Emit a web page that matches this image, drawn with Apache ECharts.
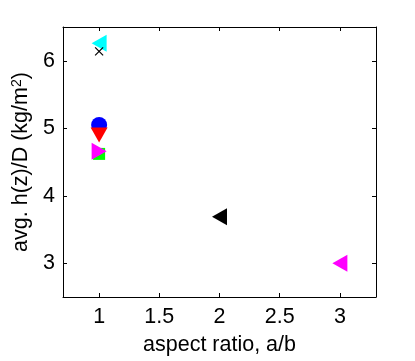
<!DOCTYPE html>
<html>
<head>
<meta charset="utf-8">
<script src="https://cdn.jsdelivr.net/npm/echarts@6/dist/echarts.min.js"></script>
<style>html,body{margin:0;padding:0;background:#fff}#c{width:415px;height:361px}</style>
</head>
<body>
<div id="c"></div>
<script>
// Data
var xTicks = [1, 1.5, 2, 2.5, 3];
var yTicks = [3, 4, 5, 6];
var cyanTri = [[1, 6.26]];
var blackX = [[1, 6.14]];
var blueCircle = [[1, 5.05]];
var redDown = [[1, 4.90]];
var greenSquare = [[1, 4.62]];
var magentaRight = [[1, 4.66]];
var blackLeft = [[2, 3.69]];
var magentaLeft = [[3, 3.00]];

var FONT = 'Liberation Sans, Arial, Helvetica, sans-serif';
var FS = 21.5;
var chart = echarts.init(document.getElementById('c'), null, {renderer: 'canvas'});

function axisCommon(vals, showLabel, margin) {
  return {
    axisLine: {show: true, lineStyle: {color: '#000', width: 1}},
    axisTick: {show: true, inside: true, length: 4, customValues: vals, lineStyle: {color: '#000', width: 1}},
    axisLabel: {show: showLabel, customValues: vals, color: '#000', fontSize: FS, fontFamily: FONT, margin: margin || 8},
    splitLine: {show: false}
  };
}

var option = {
  backgroundColor: '#fff',
  animation: false,
  grid: {left: 63, right: 39, top: 27, bottom: 62, containLabel: false},
  xAxis: [
    Object.assign({type: 'value', min: 0.7, max: 3.3, position: 'bottom',
      name: 'aspect ratio, a/b', nameLocation: 'middle', nameGap: 37,
      nameTextStyle: {color: '#000', fontSize: FS, fontFamily: FONT}}, axisCommon(xTicks, true, 9)),
    Object.assign({type: 'value', min: 0.7, max: 3.3, position: 'top'}, axisCommon(xTicks, false))
  ],
  yAxis: [
    Object.assign({type: 'value', min: 2.5, max: 6.5, position: 'left',
      name: '{a|avg. h(z)/D (kg/m}{s|2}{a|)}', nameLocation: 'middle', nameGap: 31, nameRotate: 90,
      nameTextStyle: {color: '#000', fontFamily: FONT,
        rich: {a: {fontSize: FS, fontFamily: FONT, color: '#000'},
               s: {fontSize: 14, fontFamily: FONT, color: '#000', verticalAlign: 'top', padding: [0, 0, 8, 0]}}}},
      axisCommon(yTicks, true, 8)),
    Object.assign({type: 'value', min: 2.5, max: 6.5, position: 'right'}, axisCommon(yTicks, false))
  ],
  series: [
    {type: 'scatter', data: cyanTri, symbol: 'triangle', symbolRotate: 90, symbolSize: [17, 15], itemStyle: {color: '#00ffff', opacity: 1}},
    {type: 'scatter', data: blackX, symbol: 'path://M0,0L10,10M10,0L0,10', symbolSize: 8, itemStyle: {color: 'none', borderColor: '#000', borderWidth: 1.2, opacity: 1}},
    {type: 'scatter', data: blueCircle, symbol: 'circle', symbolSize: 16, itemStyle: {color: '#0000ff', opacity: 1}},
    {type: 'scatter', data: redDown, symbol: 'triangle', symbolRotate: 180, symbolSize: [17, 15], itemStyle: {color: '#ff0000', opacity: 1}},
    {type: 'scatter', data: greenSquare, symbol: 'rect', symbolSize: 12, itemStyle: {color: '#00ff00', opacity: 1}},
    {type: 'scatter', data: magentaRight, symbol: 'triangle', symbolRotate: -90, symbolSize: [17, 15], itemStyle: {color: '#ff00ff', opacity: 1}},
    {type: 'scatter', data: blackLeft, symbol: 'triangle', symbolRotate: 90, symbolSize: [17, 15], itemStyle: {color: '#000000', opacity: 1}},
    {type: 'scatter', data: magentaLeft, symbol: 'triangle', symbolRotate: 90, symbolSize: [17, 15], itemStyle: {color: '#ff00ff', opacity: 1}}
  ]
};
chart.setOption(option);
</script>
</body>
</html>
